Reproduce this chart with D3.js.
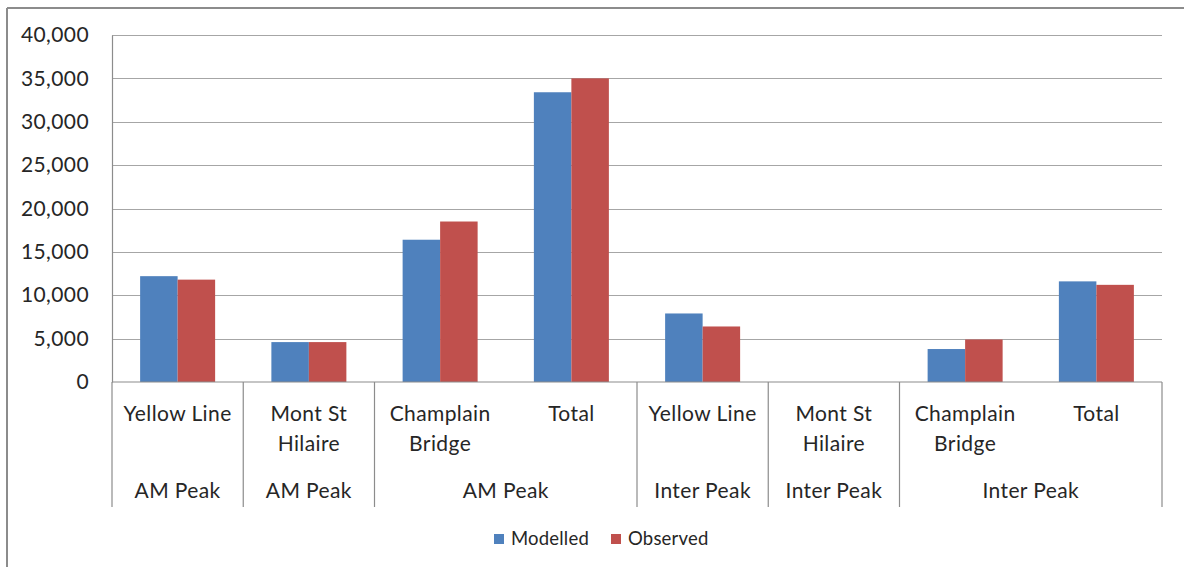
<!DOCTYPE html>
<html>
<head>
<meta charset="utf-8">
<script src="https://cdn.jsdelivr.net/npm/d3@7"></script>
<style>
  html, body { margin: 0; padding: 0; background: #fff; }
  svg { display: block; font-family: Lato, "Open Sans", sans-serif; }
</style>
</head>
<body>
<svg id="chart" width="1184" height="567"></svg>
<script>
// ---- data ----
const categories = ["Yellow Line", "Mont St\nHilaire", "Champlain\nBridge", "Total",
                    "Yellow Line", "Mont St\nHilaire", "Champlain\nBridge", "Total"];
const groups = [
  { label: "AM Peak", start: 0, end: 0 },
  { label: "AM Peak", start: 1, end: 1 },
  { label: "AM Peak", start: 2, end: 3 },
  { label: "Inter Peak", start: 4, end: 4 },
  { label: "Inter Peak", start: 5, end: 5 },
  { label: "Inter Peak", start: 6, end: 7 }
];
const seriesNames = ["Modelled", "Observed"];
const modelled = [12200, 4600, 16400, 33400, 7900, 0, 3800, 11600];
const observed = [11800, 4600, 18500, 35000, 6400, 0, 4900, 11200];
const yTicks = [0, 5000, 10000, 15000, 20000, 25000, 30000, 35000, 40000];
const colors = ["#4F81BD", "#C0504D"];

(function () {
// ---- layout ----
const svg = d3.select("#chart");
const pLeft = 112, pRight = 1162, pTop = 35, pBottom = 382;
const axisBottom = 507;
const fs = 21, ls = "0.4px";

// outer frame (top + left visible)
svg.append("line").attr("x1", 7).attr("x2", 1184).attr("y1", 8).attr("y2", 8)
  .attr("stroke", "#8c8c8c").attr("stroke-width", 2);
svg.append("line").attr("x1", 7).attr("x2", 7).attr("y1", 8).attr("y2", 567)
  .attr("stroke", "#8c8c8c").attr("stroke-width", 2);

const x = d3.scaleBand().domain(d3.range(categories.length)).range([pLeft, pRight]).padding(0);
const bw = x.bandwidth();
const xInner = d3.scaleBand().domain(seriesNames).range([bw * 1.5 / 7, bw * 5.5 / 7]).padding(0);
const y = d3.scaleLinear().domain([0, 40000]).range([pBottom, pTop]);

// gridlines
svg.append("g").selectAll("line").data(yTicks.filter(d => d > 0)).join("line")
  .attr("x1", pLeft).attr("x2", pRight)
  .attr("y1", d => Math.round(y(d)) + 0.5).attr("y2", d => Math.round(y(d)) + 0.5)
  .attr("stroke", "#a6a6a6").attr("stroke-width", 1.2);

// y axis via d3.axisLeft
const yAxis = d3.axisLeft(y).tickValues(yTicks).tickSize(0).tickPadding(23)
  .tickFormat(d3.format(","));
const gy = svg.append("g").attr("transform", `translate(${pLeft},0)`).call(yAxis);
gy.select(".domain").attr("stroke", "#8c8c8c").attr("stroke-width", 1.2);
gy.selectAll("text").attr("font-size", fs).attr("fill", "#262626")
  .attr("letter-spacing", ls)
  .attr("font-family", "Lato, 'Open Sans', sans-serif");

// bars
const seriesData = [modelled, observed];
seriesNames.forEach((s, si) => {
  svg.append("g").selectAll("rect").data(seriesData[si]).join("rect")
    .attr("x", (d, i) => x(i) + xInner(s))
    .attr("width", xInner.bandwidth())
    .attr("y", d => y(d))
    .attr("height", d => pBottom - y(d))
    .attr("fill", colors[si]);
});

// baseline
svg.append("line").attr("x1", pLeft).attr("x2", pRight).attr("y1", pBottom).attr("y2", pBottom)
  .attr("stroke", "#8c8c8c").attr("stroke-width", 1.2);

// separators (multi-level axis)
const seps = [0];
groups.forEach(g => seps.push(g.end + 1));
svg.append("g").selectAll("line").data(seps).join("line")
  .attr("x1", d => d < categories.length ? x(d) : pRight)
  .attr("x2", d => d < categories.length ? x(d) : pRight)
  .attr("y1", pBottom).attr("y2", axisBottom)
  .attr("stroke", "#8c8c8c").attr("stroke-width", 1.2);

// category labels
const catG = svg.append("g");
categories.forEach((c, i) => {
  const t = catG.append("text").attr("text-anchor", "middle")
    .attr("font-size", fs).attr("letter-spacing", ls).attr("fill", "#262626");
  c.split("\n").forEach((line, li) => {
    t.append("tspan").attr("x", x(i) + bw / 2).attr("y", 421 + li * 30).text(line);
  });
});

// group labels
svg.append("g").selectAll("text").data(groups).join("text")
  .attr("x", g => (x(g.start) + x(g.end) + bw) / 2)
  .attr("y", 498)
  .attr("text-anchor", "middle").attr("font-size", fs).attr("letter-spacing", ls)
  .attr("fill", "#262626")
  .text(g => g.label);

// legend
const legend = svg.append("g");
const legendX = [494, 611];
seriesNames.forEach((s, i) => {
  legend.append("rect").attr("x", legendX[i]).attr("y", 534).attr("width", 10).attr("height", 10)
    .attr("fill", colors[i]);
  legend.append("text").attr("x", legendX[i] + 17).attr("y", 545)
    .attr("font-size", 18.5).attr("letter-spacing", "0.2px").attr("fill", "#262626").text(s);
});
})();
</script>
</body>
</html>
